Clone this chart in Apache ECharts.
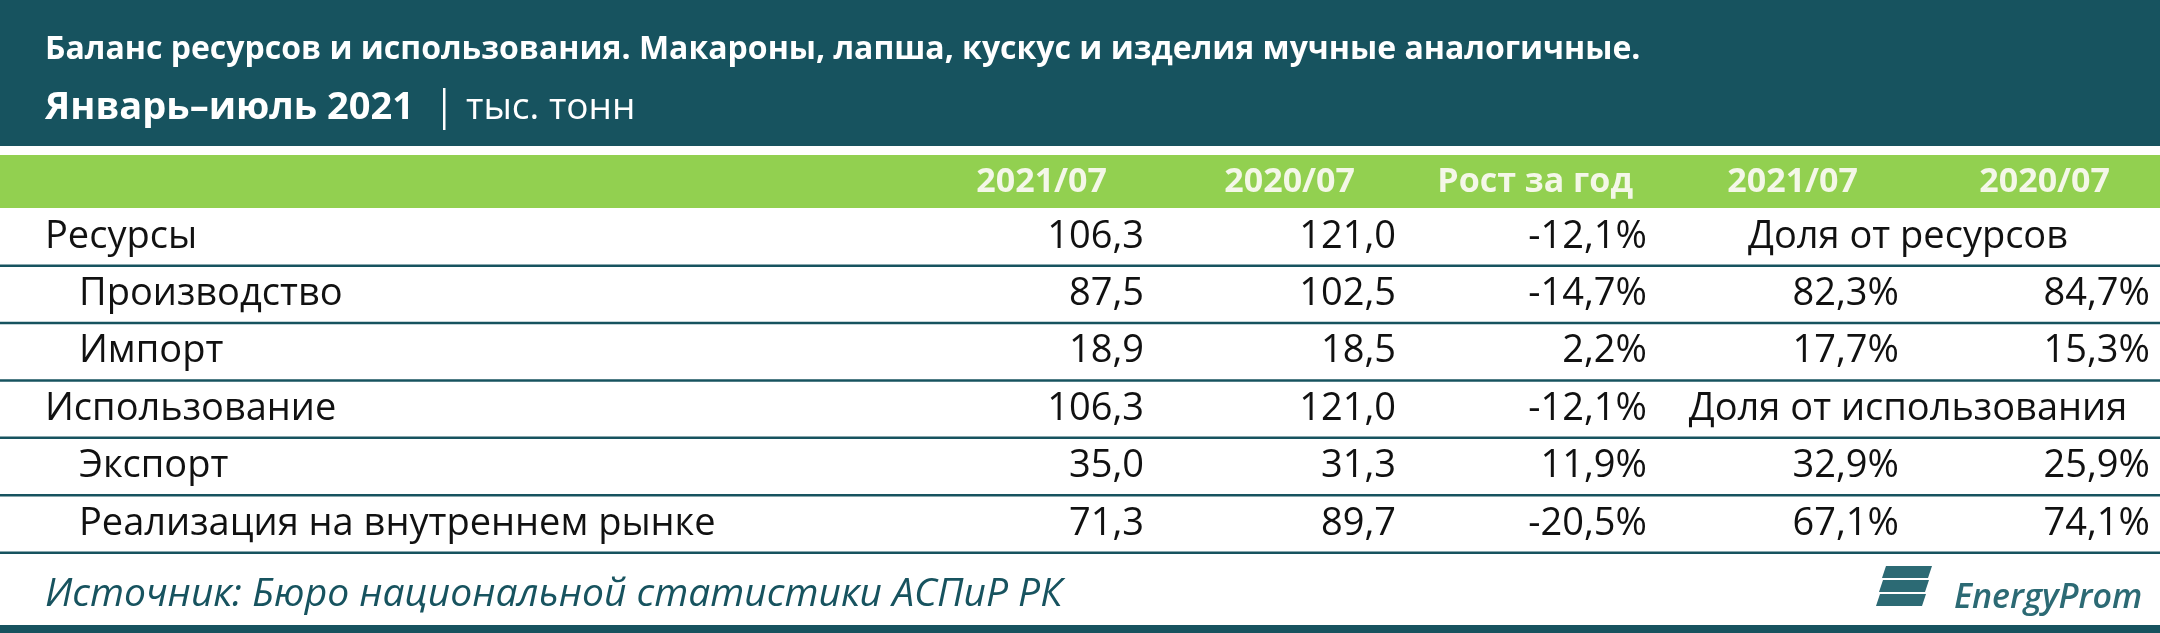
<!DOCTYPE html>
<html><head><meta charset="utf-8">
<script src="https://cdn.jsdelivr.net/npm/echarts@6/dist/echarts.min.js"></script>
<style>html,body{margin:0;padding:0;background:#fff}#c{width:2160px;height:633px}</style>
</head><body><div id="c"></div>
<script>
const titleLine1 = 'Баланс ресурсов и использования. Макароны, лапша, кускус и изделия мучные аналогичные.';
const titleLine2a = 'Январь–июль 2021';
const titleLine2b = 'тыс. тонн';
const headers = ['2021/07', '2020/07', 'Рост за год', '2021/07', '2020/07'];
const rowLabels = ['Ресурсы', 'Производство', 'Импорт', 'Использование', 'Экспорт', 'Реализация на внутреннем рынке'];
const rowIndent = [0, 1, 1, 0, 1, 1];
const val2021 = ['106,3', '87,5', '18,9', '106,3', '35,0', '71,3'];
const val2020 = ['121,0', '102,5', '18,5', '121,0', '31,3', '89,7'];
const growth = ['-12,1%', '-14,7%', '2,2%', '-12,1%', '11,9%', '-20,5%'];
const share2021 = [null, '82,3%', '17,7%', null, '32,9%', '67,1%'];
const share2020 = [null, '84,7%', '15,3%', null, '25,9%', '74,1%'];
const shareTitles = ['Доля от ресурсов', null, null, 'Доля от использования', null, null];
const source = 'Источник: Бюро национальной статистики АСПиР РК';

const DARK = '#17535f', GREEN = '#92d050', FONT = '"Open Sans", "Noto Sans", sans-serif';
const chart = echarts.init(document.getElementById('c'));
const g = [];
g.push({type:'rect', shape:{x:0,y:0,width:2160,height:146}, style:{fill:DARK}});
g.push({type:'text', x:45, y:50, style:{text:titleLine1, fill:'#fff', font:'bold 32px '+FONT, textVerticalAlign:'middle'}});
g.push({type:'text', x:45, y:108, style:{text:titleLine2a, fill:'#fff', font:'bold 38px '+FONT, textVerticalAlign:'middle'}});
g.push({type:'rect', shape:{x:443,y:88,width:2.5,height:42}, style:{fill:'#fff'}});
g.push({type:'text', x:466, y:108, style:{text:titleLine2b, fill:'#fff', font:'37px '+FONT, textVerticalAlign:'middle'}});
g.push({type:'rect', shape:{x:0,y:155,width:2160,height:53}, style:{fill:GREEN}});
const hdrX = [1107, 1355, 1633, 1858, 2110];
headers.forEach((h,i)=>g.push({type:'text', x:hdrX[i], y:182, style:{text:h, fill:'#f4f7e8', font:'bold 34px '+FONT, textAlign:'right', textVerticalAlign:'middle'}}));
const colR = [1144, 1396, 1647, 1899, 2150];
const rowH = 57.4, tableTop = 208;
rowLabels.forEach((lab,r)=>{
  const cy = tableTop + rowH*r + rowH/2;
  const t = {fill:'#111', font:'38px '+FONT, textVerticalAlign:'middle'};
  g.push({type:'text', x: rowIndent[r] ? 79 : 45, y:cy, style:Object.assign({text:lab}, t)});
  [val2021[r], val2020[r], growth[r], share2021[r], share2020[r]].forEach((v,i)=>{
    if (v) g.push({type:'text', x:colR[i], y:cy, style:Object.assign({text:v, textAlign:'right'}, t)});
  });
  if (shareTitles[r]) g.push({type:'text', x:1908, y:cy, style:Object.assign({text:shareTitles[r], textAlign:'center'}, t)});
  g.push({type:'rect', shape:{x:0, y:tableTop + rowH*(r+1) - 1, width:2160, height:2.5}, style:{fill:DARK}});
});
g.push({type:'text', x:45, y:595, style:{text:source, fill:'#17535f', font:'italic 39px '+FONT, textVerticalAlign:'middle'}});
[0,1,2].forEach(i=>g.push({type:'polygon', shape:{points:[[1886-i*3,566+i*14],[1932-i*3,566+i*14],[1928-i*3,578+i*14],[1882-i*3,578+i*14]]}, style:{fill:'#2c6a74'}}));
g.push({type:'text', x:1954, y:598, style:{text:'EnergyProm', fill:'#2c6a74', font:'italic 600 34px '+FONT, textVerticalAlign:'middle'}});
g.push({type:'rect', shape:{x:0,y:625,width:2160,height:8}, style:{fill:DARK}});
chart.setOption({animation:false, graphic:{elements:g}});
</script></body></html>
